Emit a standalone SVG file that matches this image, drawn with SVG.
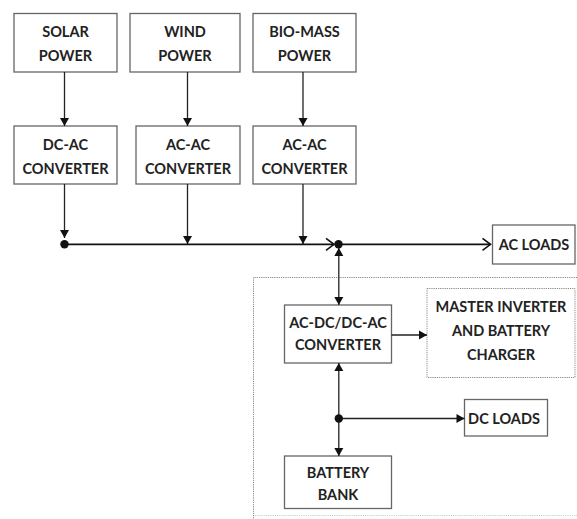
<svg xmlns="http://www.w3.org/2000/svg" width="577" height="519" viewBox="0 0 577 519">
<style>
.box{fill:#fff;stroke:#666;stroke-width:1.3}
.dot{fill:none;stroke:#888;stroke-width:1;stroke-dasharray:1.2 1}
.t{font-family:Lato,"Liberation Sans",Arial,sans-serif;font-weight:bold;font-size:14.5px;fill:#222;text-anchor:middle}
.ln{stroke:#222;stroke-width:1.3;fill:none}
.bus{stroke:#111;stroke-width:1.8;fill:none}
</style>
<defs>
<marker id="ah" markerWidth="10" markerHeight="10" refX="9" refY="5" orient="auto" markerUnits="userSpaceOnUse">
<path d="M1,0.5 L9,5 L1,9.5 Z" fill="#111"/>
</marker>
<marker id="ahs" markerWidth="10" markerHeight="10" refX="9" refY="5" orient="auto-start-reverse" markerUnits="userSpaceOnUse">
<path d="M1,0.5 L9,5 L1,9.5 Z" fill="#111"/>
</marker>
<marker id="open" markerWidth="12" markerHeight="14" refX="10" refY="7" orient="auto" markerUnits="userSpaceOnUse">
<path d="M2,1 L10,7 L2,13" fill="none" stroke="#111" stroke-width="1.6"/>
</marker>
</defs>

<path class="dot" d="M577,277.5 H253.5 V519"/>
<path d="M255,515.5 H577" fill="none" stroke="#ccc" stroke-width="1" stroke-dasharray="1.2 1"/>

<g id="solar"><rect class="box" x="14" y="13.5" width="103" height="58.5"/><text class="t" x="65.5" y="37">SOLAR</text><text class="t" x="65.5" y="61">POWER</text></g>
<g id="wind"><rect class="box" x="130" y="13.5" width="110" height="58.5"/><text class="t" x="185" y="37">WIND</text><text class="t" x="185" y="61">POWER</text></g>
<g id="bio"><rect class="box" x="253" y="13.5" width="103" height="58.5"/><text class="t" x="304.5" y="37">BIO-MASS</text><text class="t" x="304.5" y="61">POWER</text></g>

<g id="dcac"><rect class="box" x="14" y="126" width="103" height="58"/><text class="t" x="65.5" y="149.5">DC-AC</text><text class="t" x="65.5" y="173.5">CONVERTER</text></g>
<g id="acac1"><rect class="box" x="136" y="126" width="104" height="58"/><text class="t" x="188" y="149.5">AC-AC</text><text class="t" x="188" y="173.5">CONVERTER</text></g>
<g id="acac2"><rect class="box" x="253" y="126" width="103" height="58"/><text class="t" x="304.5" y="149.5">AC-AC</text><text class="t" x="304.5" y="173.5">CONVERTER</text></g>

<g id="acloads"><rect class="box" x="492.5" y="225" width="82.5" height="39"/><text class="t" x="534" y="249.5">AC LOADS</text></g>

<g id="biconv"><rect class="box" x="284.5" y="305" width="107" height="58"/><text class="t" x="338" y="327.5">AC-DC/DC-AC</text><text class="t" x="338" y="349.5">CONVERTER</text></g>
<g id="master"><rect class="dot" x="427" y="288.5" width="148" height="89"/><text class="t" x="501" y="312">MASTER INVERTER</text><text class="t" x="501" y="336">AND BATTERY</text><text class="t" x="501" y="359.5">CHARGER</text></g>
<g id="dcloads"><rect class="box" x="464.5" y="399.5" width="83" height="36.5"/><text class="t" x="504" y="423.5">DC LOADS</text></g>
<g id="battery"><rect class="box" x="284.5" y="456" width="107" height="52.5"/><text class="t" x="338" y="477.5">BATTERY</text><text class="t" x="338" y="500">BANK</text></g>

<g id="connectors">
<line class="ln" x1="64.5" y1="72" x2="64.5" y2="126" marker-end="url(#ah)"/>
<line class="ln" x1="187.5" y1="72" x2="187.5" y2="126" marker-end="url(#ah)"/>
<line class="ln" x1="303" y1="72" x2="303" y2="126" marker-end="url(#ah)"/>
<line class="ln" x1="64.5" y1="184" x2="64.5" y2="238" marker-end="url(#ah)"/>
<line class="ln" x1="187.5" y1="184" x2="187.5" y2="244" marker-end="url(#ah)"/>
<line class="ln" x1="303" y1="184" x2="303" y2="244" marker-end="url(#ah)"/>
<line class="bus" x1="64.5" y1="244.3" x2="334" y2="244.3" marker-end="url(#open)"/>
<line class="bus" x1="338.5" y1="244.3" x2="490.5" y2="244.3" marker-end="url(#open)"/>
<circle cx="64.5" cy="244.3" r="4.2" fill="#111"/>
<circle cx="338.5" cy="244.3" r="4.2" fill="#111"/>
<line class="ln" x1="338.8" y1="248" x2="338.8" y2="305" marker-start="url(#ahs)" marker-end="url(#ah)"/>
<line class="ln" x1="391.5" y1="335" x2="427" y2="335" marker-end="url(#ah)"/>
<line class="ln" x1="338.8" y1="363" x2="338.8" y2="456" marker-start="url(#ahs)" marker-end="url(#ah)"/>
<line class="ln" x1="338.8" y1="418.5" x2="464.5" y2="418.5" marker-end="url(#ah)"/>
<circle cx="338.8" cy="418.5" r="4.2" fill="#111"/>
</g>
</svg>
